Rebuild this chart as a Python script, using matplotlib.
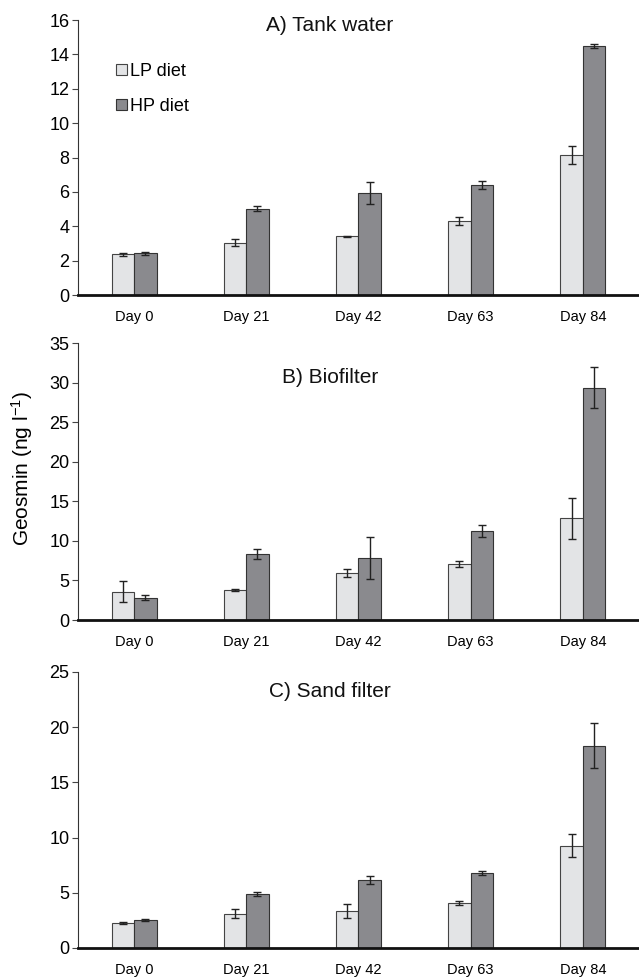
import numpy as np
import matplotlib.pyplot as plt

plt.rcParams['font.family'] = ['Liberation Sans', 'DejaVu Sans']
plt.rcParams['mathtext.fontset'] = 'custom'
plt.rcParams['mathtext.rm'] = 'Liberation Sans'
plt.rcParams['mathtext.it'] = 'Liberation Sans:italic'

# Donnees
jours = ['Day 0', 'Day 21', 'Day 42', 'Day 63', 'Day 84']
series = ['LP diet', 'HP diet']

# A) Tank water
tank_lp = [2.36, 3.04, 3.42, 4.29, 8.14]
tank_lp_err = [0.10, 0.21, 0.04, 0.23, 0.51]
tank_hp = [2.43, 5.03, 5.94, 6.40, 14.49]
tank_hp_err = [0.10, 0.13, 0.63, 0.23, 0.14]

# B) Biofilter
bio_lp = [3.6, 3.8, 5.95, 7.05, 12.85]
bio_lp_err = [1.37, 0.17, 0.49, 0.40, 2.6]
bio_hp = [2.83, 8.36, 7.85, 11.23, 29.34]
bio_hp_err = [0.34, 0.61, 2.68, 0.80, 2.58]

# C) Sand filter
sand_lp = [2.27, 3.12, 3.36, 4.09, 9.26]
sand_lp_err = [0.12, 0.44, 0.60, 0.18, 1.04]
sand_hp = [2.57, 4.90, 6.17, 6.81, 18.34]
sand_hp_err = [0.10, 0.18, 0.35, 0.18, 2.06]

couleur_lp = '#e3e4e6'
couleur_hp = '#8a8a8e'

fig = plt.figure(figsize=(6.39, 9.77), dpi=100)

panneaux = [
    ([0.122, 0.698, 0.878, 0.2815], 'A) Tank water', 0.98, 16, 2, tank_lp, tank_lp_err, tank_hp, tank_hp_err),
    ([0.122, 0.3654, 0.878, 0.2835], 'B) Biofilter', 0.877, 35, 5, bio_lp, bio_lp_err, bio_hp, bio_hp_err),
    ([0.122, 0.0297, 0.878, 0.2825], 'C) Sand filter', 0.928, 25, 5, sand_lp, sand_lp_err, sand_hp, sand_hp_err),
]

x = np.arange(len(jours))
largeur = 0.2

for i, (pos, titre, ytitre, ymax, pas, lp, lp_err, hp, hp_err) in enumerate(panneaux):
    ax = fig.add_axes(pos)
    err_style = dict(ecolor='#222222', elinewidth=1, capsize=3, capthick=1)
    ax.bar(x - largeur / 2, lp, largeur, yerr=lp_err, color=couleur_lp,
           edgecolor='#444444', linewidth=0.8, label=series[0], error_kw=err_style)
    ax.bar(x + largeur / 2, hp, largeur, yerr=hp_err, color=couleur_hp,
           edgecolor='#333333', linewidth=0.8, label=series[1], error_kw=err_style)
    ax.set_xlim(-0.5, 4.5)
    ax.set_ylim(0, ymax)
    ax.set_yticks(np.arange(0, ymax + 0.1, pas))
    ax.set_xticks(x)
    ax.set_xticklabels(jours, fontsize=10.5)
    ax.tick_params(axis='x', length=0, pad=11)
    ax.tick_params(axis='y', labelsize=13, length=4, width=0.8, color='#444444', pad=2)
    for s in ['top', 'right']:
        ax.spines[s].set_visible(False)
    ax.spines['left'].set_linewidth(0.8)
    ax.spines['left'].set_color('#333333')
    ax.spines['bottom'].set_linewidth(2)
    ax.spines['bottom'].set_color('#111111')
    ax.text(0.449, ytitre, titre, transform=ax.transAxes, ha='center', va='center',
            fontsize=15, color='#111111')
    if i == 0:
        ax.legend(loc='upper left', bbox_to_anchor=(0.055, 0.87), frameon=False,
                  fontsize=13, handlelength=0.6, handleheight=0.6, handletextpad=0.15,
                  labelspacing=1.0, borderaxespad=0)

fig.text(0.034, 0.52, r'Geosmin (ng l$^{-1}$)', rotation=90, ha='center', va='center',
         fontsize=15)

fig.savefig('out.png', dpi=100)
